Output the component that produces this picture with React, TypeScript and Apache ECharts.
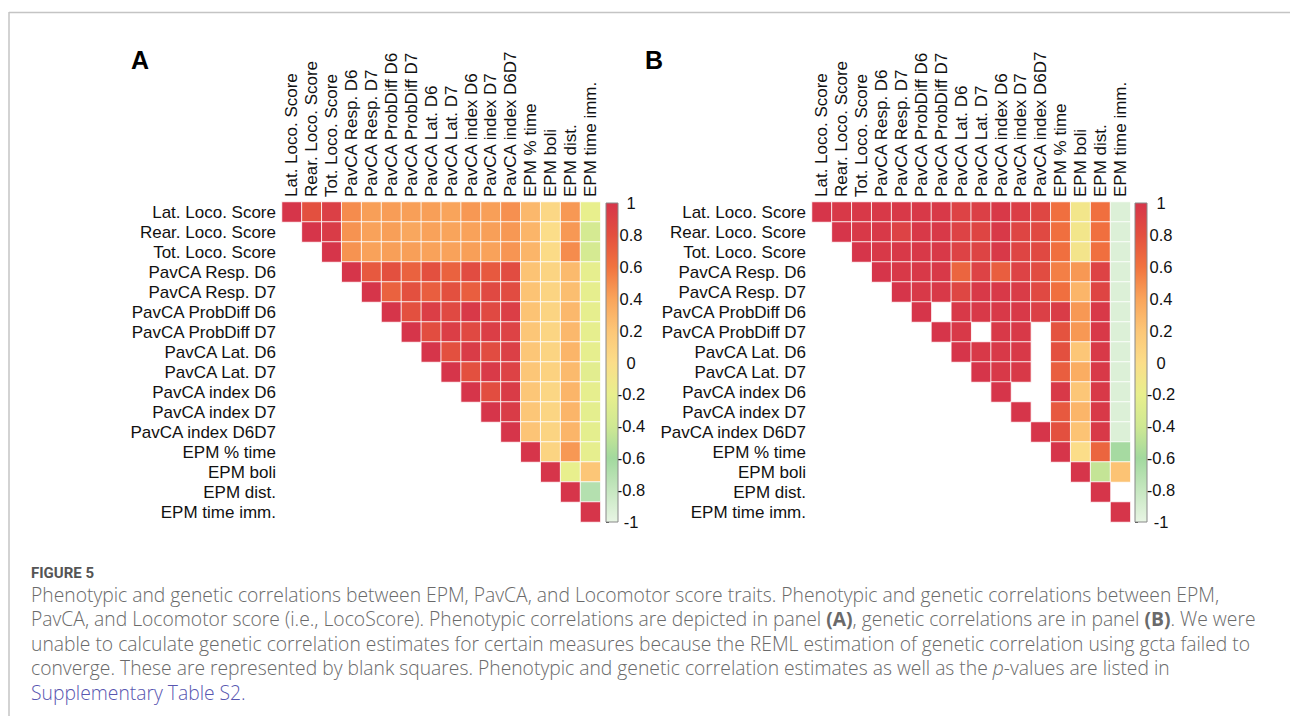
import React, { useEffect, useRef } from "react";
import * as echarts from "echarts";

const traits = [
  "Lat. Loco. Score",
  "Rear. Loco. Score",
  "Tot. Loco. Score",
  "PavCA Resp. D6",
  "PavCA Resp. D7",
  "PavCA ProbDiff D6",
  "PavCA ProbDiff D7",
  "PavCA Lat. D6",
  "PavCA Lat. D7",
  "PavCA index D6",
  "PavCA index D7",
  "PavCA index D6D7",
  "EPM % time",
  "EPM boli",
  "EPM dist.",
  "EPM time imm.",
];

// Upper-triangle rows: row i starts at its diagonal cell (column i)
const phenotypicRows: (number | null)[][] = [
  [1, 0.8, 0.92, 0.5, 0.42, 0.43, 0.42, 0.42, 0.4, 0.45, 0.42, 0.48, 0.28, 0.05, 0.45, -0.2],
  [1, 0.95, 0.47, 0.41, 0.42, 0.38, 0.41, 0.4, 0.41, 0.42, 0.45, 0.3, 0.0, 0.45, -0.35],
  [1, 0.47, 0.41, 0.42, 0.42, 0.41, 0.41, 0.42, 0.41, 0.46, 0.3, 0.02, 0.5, -0.35],
  [1, 0.75, 0.8, 0.7, 0.8, 0.7, 0.83, 0.75, 0.83, 0.22, 0.08, 0.27, -0.22],
  [1, 0.7, 0.8, 0.72, 0.8, 0.72, 0.85, 0.83, 0.22, 0.08, 0.25, -0.22],
  [1, 0.8, 0.93, 0.85, 0.97, 0.85, 0.93, 0.22, 0.08, 0.28, -0.22],
  [1, 0.82, 0.93, 0.85, 0.93, 0.9, 0.2, 0.07, 0.28, -0.22],
  [1, 0.8, 0.95, 0.83, 0.92, 0.2, 0.08, 0.3, -0.22],
  [1, 0.8, 0.96, 0.9, 0.2, 0.1, 0.27, -0.25],
  [1, 0.82, 0.95, 0.2, 0.06, 0.3, -0.22],
  [1, 0.95, 0.2, 0.07, 0.3, -0.23],
  [1, 0.21, 0.08, 0.3, -0.23],
  [1, 0.08, 0.45, -0.22],
  [1, -0.2, 0.2],
  [1, -0.7],
  [1],
];

const geneticRows: (number | null)[][] = [
  [1, 0.97, 0.97, 0.97, 0.97, 0.97, 0.97, 0.9, 0.92, 0.97, 0.93, 0.87, 0.62, -0.1, 0.62, -0.93],
  [1, 0.97, 0.97, 0.9, 0.97, 0.97, 0.9, 0.88, 0.97, 0.88, 0.85, 0.62, -0.1, 0.62, -0.93],
  [1, 0.97, 0.97, 0.97, 0.97, 0.9, 0.89, 0.97, 0.88, 0.85, 0.62, -0.08, 0.62, -0.93],
  [1, 0.97, 0.97, 0.97, 0.68, 0.9, 0.72, 0.9, 0.83, 0.55, 0.45, 0.9, -0.93],
  [1, 0.97, 0.97, 0.87, 0.97, 0.97, 0.95, 0.85, 0.62, 0.3, 0.88, -0.93],
  [1, null, 0.97, 0.97, 0.97, 0.97, 0.92, 0.95, 0.45, 0.97, -0.93],
  [1, 0.97, null, 0.97, 0.97, null, 0.78, 0.45, 0.97, -0.93],
  [1, 0.97, 0.97, 0.97, null, 0.8, 0.2, 0.97, -0.93],
  [1, 0.97, 0.97, null, 0.72, 0.35, 0.97, -0.93],
  [1, null, null, 0.97, 0.2, 0.97, -0.93],
  [1, null, 0.75, 0.3, 0.97, -0.93],
  [1, 0.8, 0.22, 0.97, -0.93],
  [1, 0.0, 0.68, -0.62],
  [1, -0.45, 0.22],
  [1, null],
  [1],
];

const paletteValues = [-1, -0.8, -0.6, -0.4, -0.2, 0, 0.2, 0.4, 0.6, 0.8, 1];
const paletteColors = [
  "#e8f5e4",
  "#c6e7c0",
  "#a2d99e",
  "#cfe893",
  "#e8ef8d",
  "#fbdd89",
  "#fcc677",
  "#f9a45b",
  "#f1733f",
  "#e3503f",
  "#d6354a",
];

const captionLines = [
  "Phenotypic and genetic correlations between EPM, PavCA, and Locomotor score traits. Phenotypic and genetic correlations between EPM,",
  "PavCA, and Locomotor score (i.e., LocoScore). Phenotypic correlations are depicted in panel {b|(A)}, genetic correlations are in panel {b|(B)}. We were",
  "unable to calculate genetic correlation estimates for certain measures because the REML estimation of genetic correlation using gcta failed to",
  "converge. These are represented by blank squares. Phenotypic and genetic correlation estimates as well as the {i|p}-values are listed in",
];
const captionLink = "Supplementary Table S2.";

function toCells(rows: (number | null)[][]) {
  const out: [number, number, number][] = [];
  rows.forEach((row, i) => {
    row.forEach((v, k) => {
      if (v !== null) out.push([i + k, i, v]);
    });
  });
  return out;
}

const FONT = "'Liberation Sans', Arial, sans-serif";
const CAP_FONT = "'Open Sans', 'Noto Sans', sans-serif";
const LABEL_SIZE = 17;

export default function App() {
  const ref = useRef<HTMLDivElement>(null);

  useEffect(() => {
    if (!ref.current) return;
    const chart = echarts.init(ref.current, undefined, { renderer: "svg" });

    const heatLeft = [282, 812];
    const barLeft = [606, 1135];
    const barLabelMargin = [13, 14];
    const gridTop = 202;
    const cellW = 19.9;
    const gridW = cellW * 16;
    const gridH = 320;

    const grids: any[] = [];
    const xAxes: any[] = [];
    const yAxes: any[] = [];
    const series: any[] = [];

    [0, 1].forEach((p) => {
      grids.push({ left: heatLeft[p], top: gridTop, width: gridW, height: gridH });
      xAxes.push({
        type: "category",
        gridIndex: p,
        data: traits,
        position: "top",
        axisLine: { show: false },
        axisTick: { show: false },
        splitLine: { show: false },
        axisLabel: {
          rotate: -90,
          interval: 0,
          fontSize: LABEL_SIZE,
          color: "#111",
          margin: 5,
          fontFamily: FONT,
        },
      });
      yAxes.push({
        type: "category",
        gridIndex: p,
        data: traits,
        inverse: true,
        axisLine: { show: false },
        axisTick: { show: false },
        splitLine: { show: false },
        axisLabel: {
          interval: 0,
          fontSize: LABEL_SIZE,
          color: "#111",
          margin: 6,
          fontFamily: FONT,
        },
      });
      series.push({
        type: "heatmap",
        xAxisIndex: p,
        yAxisIndex: p,
        data: toCells(p === 0 ? phenotypicRows : geneticRows),
        itemStyle: { borderColor: "rgba(255,255,255,0.85)", borderWidth: 1 },
        emphasis: { disabled: true },
        silent: true,
      });
    });

    const gradientStops = paletteValues
      .map((v, i) => ({ offset: 1 - (v + 1) / 2, color: paletteColors[i] }))
      .reverse();

    [0, 1].forEach((p) => {
      const gi = 2 + p;
      grids.push({ left: barLeft[p], top: gridTop + 1, width: 12, height: gridH - 1 });
      xAxes.push({ type: "value", gridIndex: gi, min: 0, max: 1, show: false });
      yAxes.push({
        type: "value",
        gridIndex: gi,
        min: -1,
        max: 1,
        interval: 0.2,
        position: "right",
        axisLine: { show: false },
        splitLine: { show: false },
        axisTick: { show: true, length: 3, lineStyle: { color: "#444", width: 1 } },
        axisLabel: {
          fontSize: 16.5,
          color: "#111",
          margin: barLabelMargin[p],
          align: "center",
          fontFamily: FONT,
          formatter: (v: number) => String(Math.round(v * 10) / 10),
        },
      });
      series.push({
        type: "custom",
        xAxisIndex: gi,
        yAxisIndex: gi,
        silent: true,
        data: [[0, 0]],
        renderItem: (_params: any, api: any) => {
          const p0 = api.coord([0, 1]);
          const p1 = api.coord([1, -1]);
          return {
            type: "rect",
            shape: { x: p0[0], y: p0[1], width: p1[0] - p0[0], height: p1[1] - p0[1] },
            style: {
              fill: new echarts.graphic.LinearGradient(0, 0, 0, 1, gradientStops),
              stroke: "#888",
              lineWidth: 1,
            },
          };
        },
      });
    });

    const capSize = 19.3;
    const capStyle = (text: string, y: number, fill: string) => ({
      type: "text",
      x: 31,
      y,
      silent: true,
      style: {
        text,
        font: `300 ${capSize}px ${CAP_FONT}`,
        fill,
        textAlign: "left",
        textVerticalAlign: "middle",
        rich: {
          b: { font: `bold ${capSize}px ${CAP_FONT}`, fill },
          i: { font: `italic 300 ${capSize}px ${CAP_FONT}`, fill },
        },
      },
    });

    const graphic: any[] = [
      { type: "line", silent: true, shape: { x1: 9, y1: 12.5, x2: 1290, y2: 12.5 }, style: { stroke: "#c4c4c4", lineWidth: 1.5 } },
      { type: "line", silent: true, shape: { x1: 9, y1: 12, x2: 9, y2: 716 }, style: { stroke: "#c4c4c4", lineWidth: 1.5 } },
      {
        type: "text",
        x: 140,
        y: 60,
        silent: true,
        style: { text: "A", font: `bold 25px ${FONT}`, fill: "#000", textAlign: "center", textVerticalAlign: "middle" },
      },
      {
        type: "text",
        x: 654,
        y: 60,
        silent: true,
        style: { text: "B", font: `bold 25px ${FONT}`, fill: "#000", textAlign: "center", textVerticalAlign: "middle" },
      },
      {
        type: "text",
        x: 31,
        y: 573,
        silent: true,
        style: {
          text: "FIGURE 5",
          font: `bold 15px Roboto, 'Open Sans', sans-serif`,
          fill: "#555555",
          textAlign: "left",
          textVerticalAlign: "middle",
        },
      },
      ...captionLines.map((t, i) => capStyle(t, 594 + i * 24.5, "#6a6a6a")),
      capStyle(captionLink, 594 + 4 * 24.5, "#5856b0"),
    ];

    chart.setOption({
      animation: false,
      textStyle: { fontFamily: FONT },
      grid: grids,
      xAxis: xAxes,
      yAxis: yAxes,
      visualMap: [
        {
          type: "continuous",
          min: -1,
          max: 1,
          show: false,
          seriesIndex: [0, 1],
          inRange: { color: paletteColors },
        },
      ],
      series,
      graphic,
    });

    return () => chart.dispose();
  }, []);

  return (
    <div
      ref={ref}
      style={{ position: "absolute", left: 0, top: 0, width: 1290, height: 716, background: "#fff" }}
    />
  );
}
